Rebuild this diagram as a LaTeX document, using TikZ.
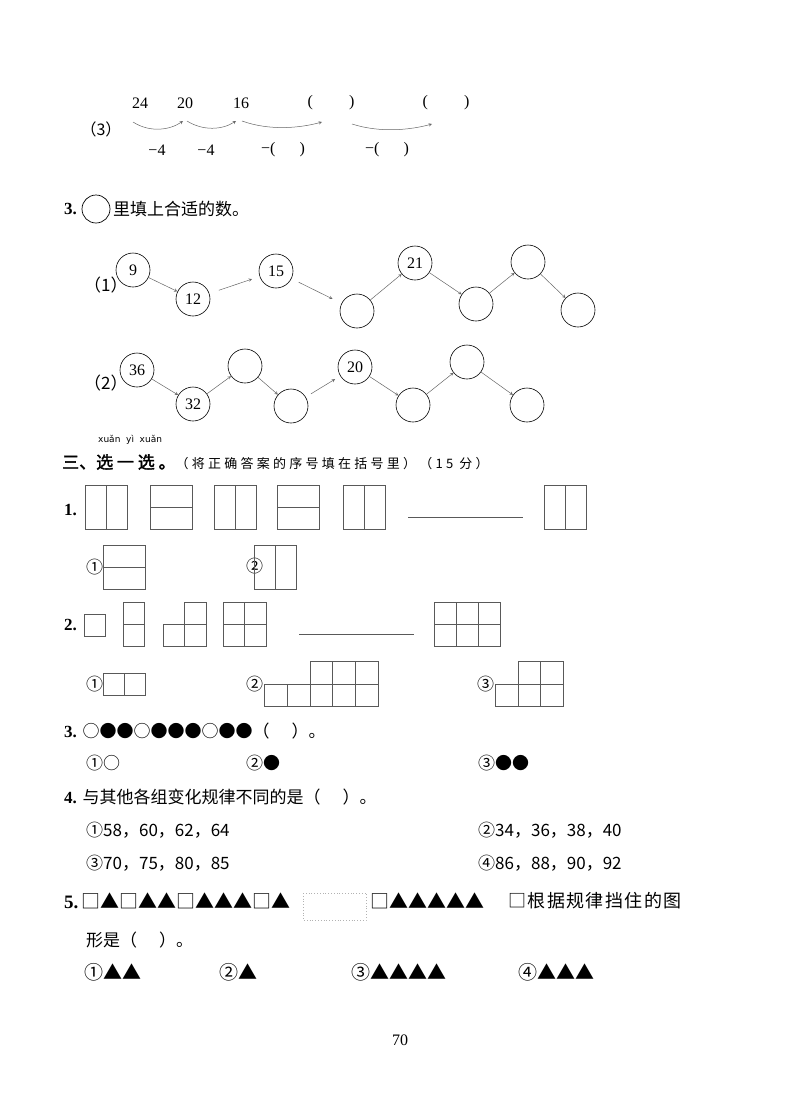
\documentclass[tikz,border=0pt]{standalone}
\usepackage{fontspec}
\setmainfont{Liberation Serif}
\newfontfamily\cjk{Noto Sans CJK SC}
\newfontfamily\cjkb{Noto Sans CJK SC}[FakeBold=2]
\newfontfamily\dv{DejaVu Sans}
\begin{document}
\begin{tikzpicture}[x=1pt,y=-1pt,
  txt/.style={anchor=west,inner sep=0pt,font=\fontsize{17}{20}\selectfont},
  num/.style={inner sep=0pt,font=\fontsize{16}{18}\selectfont},
  cir/.style={draw,circle,minimum size=34pt,inner sep=0pt,line width=0.6pt,font=\fontsize{16}{18}\selectfont},
  arr/.style={-stealth,line width=0.5pt,gray!80!black},
  gl/.style={line width=0.6pt,gray!70!black},
  bx/.style={draw=gray!70!black,line width=0.7pt}]
\useasboundingbox (0,0) rectangle (800,1120);
% row (3)
\node[num] (n1) at (140,103) {24};
\node[num] (n2) at (185,103) {20};
\node[num] (n3) at (241,103) {16};
\node[num] (p1) at (331,103) {(\hspace{36pt})};
\node[num] (p2) at (446,103) {(\hspace{36pt})};
\node[num] (l3) at (101,129) {\cjk（3）};
\coordinate (a1) at (133,122); \coordinate (b1) at (183,121);
\coordinate (a2) at (187,121); \coordinate (b2) at (236,121);
\coordinate (a3) at (242,121); \coordinate (b3) at (322,122);
\coordinate (a4) at (352,124); \coordinate (b4) at (432,124);
\draw[arr] (a1) .. controls (150,133) and (170,130) .. (b1);
\draw[arr] (a2) .. controls (203,131) and (222,130) .. (b2);
\draw[arr] (a3) .. controls (270,131) and (300,128) .. (b3);
\draw[arr] (a4) .. controls (380,133) and (410,130) .. (b4);
\node[num] (m1) at (157,150) {−4};
\node[num] (m2) at (206,150) {−4};
\node[num] (m3) at (283,150) {−(\hspace{24pt})};
\node[num] (m4) at (387,150) {−(\hspace{24pt})};
% Q3 heading
\node[txt] (q3) at (64,209) {\textbf{3.}};
\node[draw,circle,minimum size=28pt,line width=0.7pt] (qc) at (96,209) {};
\node[txt] (q3t) at (113,209) {\cjk 里填上合适的数。};
% (1)
\node[txt] (r1) at (84,285) {\cjk（1）};
\node[cir] (c1) at (133,270) {9};
\node[cir] (c2) at (193,299) {12};
\node[cir] (c3) at (276,271) {15};
\node[cir] (c4) at (357,311) {};
\node[cir] (c5) at (415,263) {21};
\node[cir] (c6) at (476,304) {};
\node[cir] (c7) at (528,262) {};
\node[cir] (c8) at (578,310) {};
\draw[arr] (c1) -- (c2);
\draw[arr,shorten <=10pt,shorten >=8pt] (c2) -- (c3);
\draw[arr,shorten <=8pt,shorten >=10pt] (c3) -- (c4);
\draw[arr] (c4) -- (c5);
\draw[arr] (c5) -- (c6);
\draw[arr] (c6) -- (c7);
\draw[arr] (c7) -- (c8);
% (2)
\node[txt] (r2) at (84,383) {\cjk（2）};
\node[cir] (d1) at (137,370) {36};
\node[cir] (d2) at (193,404) {32};
\node[cir] (d3) at (245,366) {};
\node[cir] (d4) at (291,406) {};
\node[cir] (d5) at (355,367) {20};
\node[cir] (d6) at (413,405) {};
\node[cir] (d7) at (467,362) {};
\node[cir] (d8) at (527,405) {};
\draw[arr] (d1) -- (d2);
\draw[arr] (d2) -- (d3);
\draw[arr] (d3) -- (d4);
\draw[arr,shorten <=6pt,shorten >=6pt] (d4) -- (d5);
\draw[arr] (d5) -- (d6);
\draw[arr] (d6) -- (d7);
\draw[arr] (d7) -- (d8);
% section heading
\node[txt,font=\dv\fontsize{9}{10}\selectfont] (py) at (98,440) {xuǎn\ \ yì\ \ xuǎn};
\node[txt] (h3) at (62,462) {\cjkb 三、选\ 一\ 选\ 。\cjk\fontsize{13}{15}\selectfont\addfontfeature{LetterSpace=25}（将正确答案的序号填在括号里）（15 分）};
% Q1
\node[txt] (q1) at (64,510) {\textbf{1.}};
\foreach \x/\t in {85/v,150/h,214/v,277/h,343/v,544/v}{
  \draw[bx] (\x,485) rectangle +(42,44);
  \if v\t \draw[gl] (\x+21,485) -- +(0,44); \else \draw[gl] (\x,507) -- +(42,0); \fi
}
\draw[gl] (408,517) -- (523,517);
\node[txt] (o11) at (86,567) {\cjk ①};
\draw[bx] (103,545) rectangle (145,589); \draw[gl] (103,567) -- (145,567);
\node[txt] (o12) at (246,566) {\cjk ②};
\draw[bx] (254,545) rectangle (296,589); \draw[gl] (275,545) -- (275,589);
% Q2
\node[txt] (q2) at (64,625) {\textbf{2.}};
\draw[bx] (84,614) rectangle (105,636);
\draw[bx] (123,602) rectangle (144.5,646); \draw[gl] (123,624)--(144.5,624);
\draw[bx] (163,624) rectangle (206,646); \draw[gl] (184.5,624)--(184.5,646);
\draw[bx] (184.5,602) rectangle (206,624);
\draw[bx] (223,602) rectangle (266,646); \draw[gl] (244.5,602)--(244.5,646); \draw[gl] (223,624)--(266,624);
\draw[gl] (299,634) -- (414,634);
\draw[bx] (434,602) rectangle (500,646); \draw[gl] (456,602)--(456,646); \draw[gl] (478,602)--(478,646); \draw[gl] (434,624)--(500,624);
\node[txt] (o21) at (86,684) {\cjk ①};
\draw[bx] (103,673) rectangle (145,695); \draw[gl] (124,673)--(124,695);
\node[txt] (o22) at (246,684) {\cjk ②};
\draw[bx] (264,684) rectangle (378,706);
\foreach \x in {287,310,332,355} \draw[gl] (\x,684)--(\x,706);
\draw[bx] (310,661) rectangle (378,684); \draw[gl] (332,661)--(332,684); \draw[gl] (355,661)--(355,684);
\node[txt] (o23) at (477,684) {\cjk ③};
\draw[bx] (495,684) rectangle (563,706); \draw[gl] (518,684)--(518,706); \draw[gl] (540,684)--(540,706);
\draw[bx] (518,661) rectangle (563,684); \draw[gl] (540,661)--(540,684);
% Q3
\node[txt] (q3b) at (64,731) {\textbf{3.} \cjk ○●●○●●●○●●（\hspace{22pt}）。};
\node[txt] (o31) at (86,763) {\cjk ①○};
\node[txt] (o32) at (246,763) {\cjk ②●};
\node[txt] (o33) at (478,763) {\cjk ③●●};
% Q4
\node[txt] (q4) at (64,797) {\textbf{4.} \cjk 与其他各组变化规律不同的是（\hspace{22pt}）。};
\node[txt] (o41) at (86,830) {\cjk ①58，60，62，64};
\node[txt] (o42) at (478,830) {\cjk ②34，36，38，40};
\node[txt] (o43) at (86,863) {\cjk ③70，75，80，85};
\node[txt] (o44) at (478,863) {\cjk ④86，88，90，92};
% Q5
\node[txt,font=\fontsize{19}{22}\selectfont] (q5) at (64,901) {\textbf{5.}\,\cjk □▲□▲▲□▲▲▲□▲};
\draw[gray!60,dotted,line width=0.8pt] (303,893) rectangle (366,920);
\node[txt,font=\fontsize{19}{22}\selectfont] (q5b) at (370,901) {\cjk □▲▲▲▲▲};
\node[txt,font=\cjk\fontsize{18}{22}\selectfont\addfontfeature{LetterSpace=8}] (q5c) at (508,901) {□根据规律挡住的图};
\node[txt] (q5d) at (86,940) {\cjk 形是（\hspace{22pt}）。};
\node[txt,font=\fontsize{19}{22}\selectfont] (o51) at (84,972) {\cjk ①▲▲};
\node[txt,font=\fontsize{19}{22}\selectfont] (o52) at (219,972) {\cjk ②▲};
\node[txt,font=\fontsize{19}{22}\selectfont] (o53) at (351,972) {\cjk ③▲▲▲▲};
\node[txt,font=\fontsize{19}{22}\selectfont] (o54) at (518,972) {\cjk ④▲▲▲};
\node[num] (pg) at (400,1040) {70};
\end{tikzpicture}
\end{document}
